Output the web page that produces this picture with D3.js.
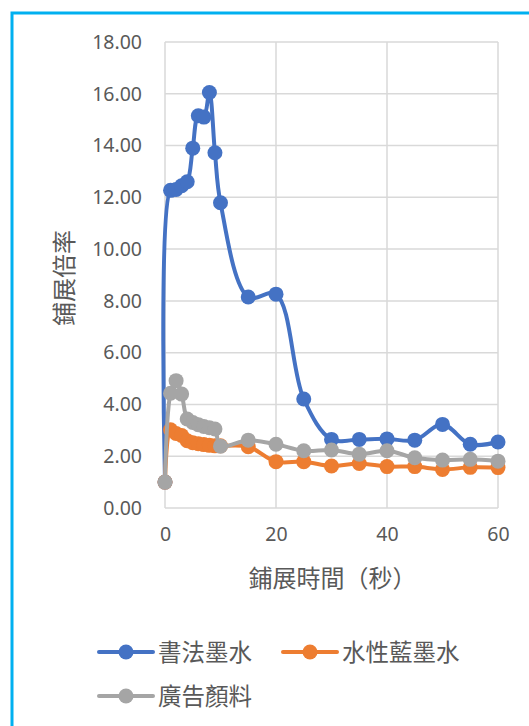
<!DOCTYPE html>
<html>
<head>
<meta charset="utf-8">
<script src="https://cdn.jsdelivr.net/npm/d3@7"></script>
<style>
  html, body { margin: 0; padding: 0; background: #fff; }
  svg { display: block; }
</style>
</head>
<body>
<svg id="chart" width="529" height="726"></svg>
<script>
// Spreading time (seconds) and spreading ratio for three liquids
const times = [0, 1, 2, 3, 4, 5, 6, 7, 8, 9, 10, 15, 20, 25, 30, 35, 40, 45, 50, 55, 60];
const calligraphyInk = [1.00, 12.27, 12.30, 12.45, 12.60, 13.90, 15.15, 15.10, 16.05, 13.72, 11.79, 8.15, 8.26, 4.21, 2.65, 2.65, 2.67, 2.62, 3.23, 2.46, 2.55];
const blueInk = [1.00, 3.02, 2.88, 2.80, 2.60, 2.52, 2.48, 2.45, 2.42, 2.40, 2.40, 2.37, 1.79, 1.79, 1.62, 1.72, 1.60, 1.60, 1.49, 1.57, 1.56];
const posterPaint = [1.00, 4.43, 4.92, 4.40, 3.44, 3.30, 3.22, 3.15, 3.10, 3.05, 2.39, 2.62, 2.46, 2.21, 2.24, 2.08, 2.21, 1.94, 1.85, 1.88, 1.81];
const seriesNames = ["書法墨水", "水性藍墨水", "廣告顏料"];
const seriesColors = ["#4472c4", "#ed7d31", "#a5a5a5"];
const xTicks = [0, 20, 40, 60];
const yTicks = [0, 2, 4, 6, 8, 10, 12, 14, 16, 18];
const xTitle = "鋪展時間（秒）";
const yTitle = "鋪展倍率";

const series = [calligraphyInk, blueInk, posterPaint].map((vals, i) => ({
  name: seriesNames[i],
  color: seriesColors[i],
  points: vals.map((v, j) => ({ t: times[j], v }))
}));

const svg = d3.select("#chart");
const txt = "#595959";
const numFont = "'Noto Sans', 'Liberation Sans', sans-serif";
const cjkFont = "'Noto Sans CJK TC', 'Noto Sans CJK SC', sans-serif";

// outer frame
svg.append("rect")
  .attr("x", 12).attr("y", 13)
  .attr("width", 560).attr("height", 760)
  .attr("fill", "#fff")
  .attr("stroke", "#00b0f0").attr("stroke-width", 3);

const x = d3.scaleLinear().domain([0, 60]).range([165, 498]);
const y = d3.scaleLinear().domain([0, 18]).range([508, 42]);

// grid
const grid = svg.append("g").attr("stroke", "#d9d9d9").attr("stroke-width", 1.5);
grid.selectAll("line.h").data(yTicks).join("line")
  .attr("x1", x(0)).attr("x2", x(60))
  .attr("y1", d => y(d)).attr("y2", d => y(d));
grid.selectAll("line.v").data(xTicks).join("line")
  .attr("x1", d => x(d)).attr("x2", d => x(d))
  .attr("y1", y(0)).attr("y2", y(18));

// axes labels
const yAxis = svg.append("g").attr("transform", `translate(${x(0)},0)`)
  .call(d3.axisLeft(y).tickValues(yTicks).tickFormat(d3.format(".2f")).tickSize(0).tickPadding(23));
yAxis.select(".domain").remove();
yAxis.selectAll("text").attr("fill", txt).attr("font-family", numFont).attr("font-size", 19.5);

const xAxis = svg.append("g").attr("transform", `translate(0,${y(0)})`)
  .call(d3.axisBottom(x).tickValues(xTicks).tickFormat(d3.format("d")).tickSize(0).tickPadding(19));
xAxis.select(".domain").remove();
xAxis.selectAll("text").attr("fill", txt).attr("font-family", numFont).attr("font-size", 19.5);

svg.append("text")
  .attr("x", (x(0) + x(60)) / 2 + 1).attr("y", 587)
  .attr("text-anchor", "middle")
  .attr("fill", txt).attr("font-family", cjkFont).attr("font-size", 24)
  .text(xTitle);

svg.append("text")
  .attr("transform", `translate(73,${(y(0) + y(18)) / 2 + 3}) rotate(-90)`)
  .attr("text-anchor", "middle")
  .attr("fill", txt).attr("font-family", cjkFont).attr("font-size", 24)
  .text(yTitle);

// series
const line = d3.line()
  .x(d => x(d.t)).y(d => y(d.v))
  .curve(d3.curveCatmullRom.alpha(0.5));

series.forEach(s => {
  const g = svg.append("g");
  g.append("path")
    .attr("d", line(s.points))
    .attr("fill", "none")
    .attr("stroke", s.color).attr("stroke-width", 4)
    .attr("stroke-linejoin", "round").attr("stroke-linecap", "round");
  g.selectAll("circle").data(s.points).join("circle")
    .attr("cx", d => x(d.t)).attr("cy", d => y(d.v))
    .attr("r", 7.5)
    .attr("fill", s.color);
});

// legend
const legendPos = [
  { lx: 99, ly: 652 },
  { lx: 283, ly: 652 },
  { lx: 99, ly: 696 }
];
series.forEach((s, i) => {
  const p = legendPos[i];
  const g = svg.append("g");
  g.append("line")
    .attr("x1", p.lx).attr("x2", p.lx + 54)
    .attr("y1", p.ly).attr("y2", p.ly)
    .attr("stroke", s.color).attr("stroke-width", 4).attr("stroke-linecap", "round");
  g.append("circle").attr("cx", p.lx + 27).attr("cy", p.ly).attr("r", 7.5).attr("fill", s.color);
  g.append("text")
    .attr("x", p.lx + 59).attr("y", p.ly + 8.5)
    .attr("fill", txt).attr("font-family", cjkFont).attr("font-size", 23.5)
    .text(s.name);
});
</script>
</body>
</html>
